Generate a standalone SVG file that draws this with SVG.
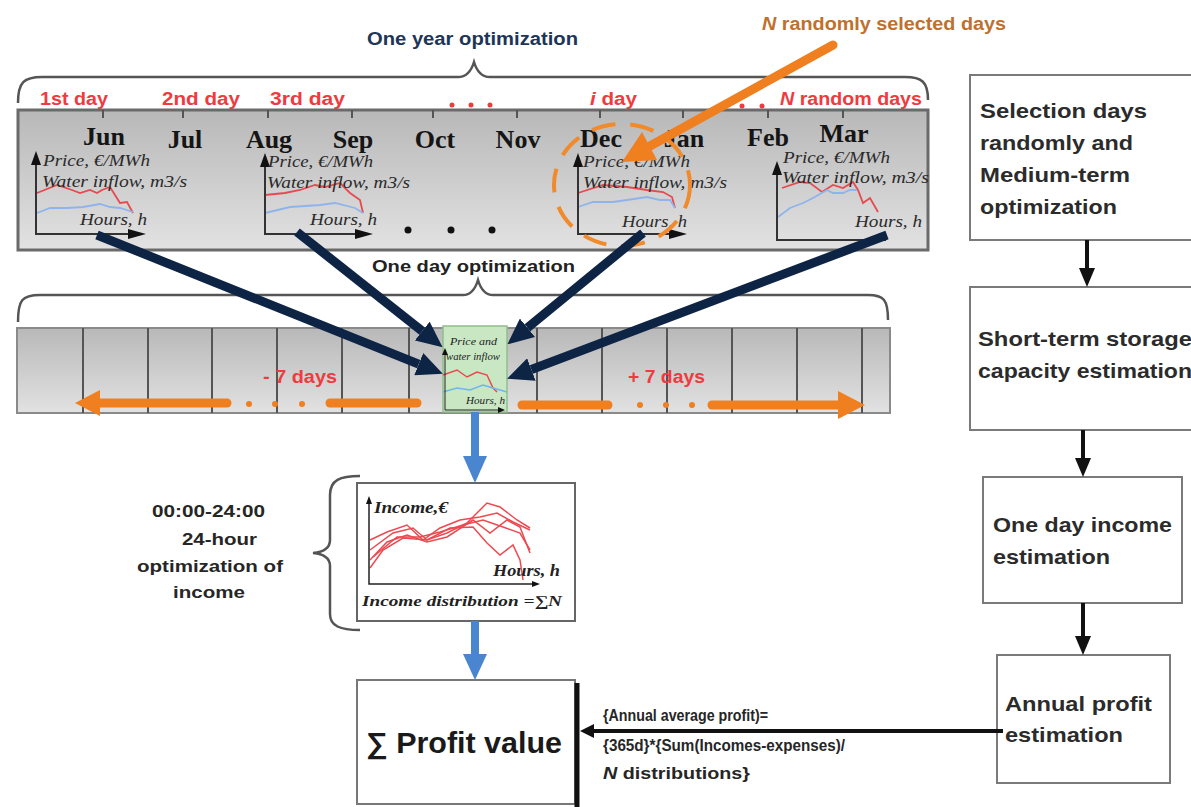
<svg xmlns="http://www.w3.org/2000/svg" width="1191" height="807" viewBox="0 0 1191 807">
<defs>
  <linearGradient id="gband" x1="0" y1="0" x2="0" y2="1">
    <stop offset="0" stop-color="#b8b8b8"/>
    <stop offset="1" stop-color="#e2e2e2"/>
  </linearGradient>
  <marker id="navyHead" markerUnits="userSpaceOnUse" markerWidth="26" markerHeight="24" viewBox="0 0 26 24" refX="0" refY="12" orient="auto">
    <path d="M0,0 L26,12 L0,24 z" fill="#0e2445"/>
  </marker>
</defs>
<style>
  .red{font-family:"Liberation Sans",Arial,sans-serif;font-weight:bold;font-size:18px;fill:#ef3b40}
  .month{font-family:"Liberation Serif","Times New Roman",serif;font-weight:bold;font-size:26px;fill:#151515}
  .ax{font-family:"Liberation Serif","Times New Roman",serif;font-style:italic;font-size:16px;fill:#2a2a2a}
  .axs{font-family:"Liberation Serif","Times New Roman",serif;font-style:italic;font-size:10px;fill:#222}
  .box{fill:#fff;stroke:#7a7a7a;stroke-width:2}
  .bt{font-family:"Liberation Sans",Arial,sans-serif;font-weight:bold;font-size:21px;fill:#2b2b2b}
  .lbl{font-family:"Liberation Sans",Arial,sans-serif;font-weight:bold;font-size:17px;fill:#262626}
  .navy{stroke:#0e2445;stroke-width:9;fill:none;marker-end:url(#navyHead)}
  .price{fill:none;stroke:#e8494f;stroke-width:1.8}
  .flow{fill:none;stroke:#8fb4ec;stroke-width:1.8}
  .axis{stroke:#333;stroke-width:2;fill:none}
  .brace{fill:none;stroke:#555;stroke-width:2.5}
  .div{stroke:#555;stroke-width:2}
  .tick{stroke:#555;stroke-width:2}
  .inc{fill:none;stroke:#ec4a50;stroke-width:1.5}
  .orng{stroke:#f07f1f;stroke-width:9;stroke-linecap:round;fill:none}
</style>

<rect width="1191" height="807" fill="#fff"/>

<!-- Top: one year optimization -->
<g id="year-band">
  <text x="367" y="45" font-family="Liberation Sans, Arial, sans-serif" font-weight="bold" font-size="18" fill="#1d3557" textLength="211" lengthAdjust="spacingAndGlyphs">One year optimization</text>
  <path class="brace" d="M18,103 C18,82 24,77 42,77 L458,77 C466,77 471,72 474,62 C477,72 482,77 490,77 L905,77 C922,77 928,82 928,100"/>
  <text class="red" x="40" y="105" textLength="68" lengthAdjust="spacingAndGlyphs">1st day</text>
  <text class="red" x="162" y="105" textLength="78" lengthAdjust="spacingAndGlyphs">2nd day</text>
  <text class="red" x="270" y="105" textLength="75" lengthAdjust="spacingAndGlyphs">3rd day</text>
  <circle cx="452" cy="105" r="2.5" fill="#ef3b40"/><circle cx="471" cy="105" r="2.5" fill="#ef3b40"/><circle cx="490" cy="105" r="2.5" fill="#ef3b40"/>
  <text class="red" x="590" y="105" textLength="47" lengthAdjust="spacingAndGlyphs"><tspan font-style="italic">i</tspan> day</text>
  <circle cx="722" cy="106" r="2.5" fill="#ef3b40"/><circle cx="742" cy="106" r="2.5" fill="#ef3b40"/><circle cx="762" cy="106" r="2.5" fill="#ef3b40"/>
  <text class="red" x="780" y="105" textLength="142" lengthAdjust="spacingAndGlyphs"><tspan font-style="italic">N</tspan> random days</text>

  <rect x="18" y="110" width="910" height="140" fill="url(#gband)" stroke="#6a6a6a" stroke-width="3"/>
  <g>
    <line class="tick" x1="103" y1="110" x2="103" y2="118"/><line class="tick" x1="183" y1="110" x2="183" y2="118"/>
    <line class="tick" x1="268" y1="110" x2="268" y2="118"/><line class="tick" x1="352" y1="110" x2="352" y2="118"/>
    <line class="tick" x1="433" y1="110" x2="433" y2="118"/><line class="tick" x1="517" y1="110" x2="517" y2="118"/>
    <line class="tick" x1="600" y1="110" x2="600" y2="118"/><line class="tick" x1="683" y1="110" x2="683" y2="118"/>
    <line class="tick" x1="768" y1="110" x2="768" y2="118"/><line class="tick" x1="843" y1="110" x2="843" y2="118"/>
  </g>
  <g>
    <text class="month" x="104" y="145" text-anchor="middle">Jun</text>
    <text class="month" x="185" y="148" text-anchor="middle">Jul</text>
    <text class="month" x="269" y="148" text-anchor="middle">Aug</text>
    <text class="month" x="353" y="148" text-anchor="middle">Sep</text>
    <text class="month" x="435" y="148" text-anchor="middle">Oct</text>
    <text class="month" x="518" y="148" text-anchor="middle">Nov</text>
    <text class="month" x="601" y="147" text-anchor="middle">Dec</text>
    <text class="month" x="684" y="147" text-anchor="middle">Jan</text>
    <text class="month" x="768" y="146" text-anchor="middle">Feb</text>
    <text class="month" x="844" y="142" text-anchor="middle">Mar</text>
  </g>

  <!-- chart 1 -->
  <g id="chart-1">
    <polyline class="price" points="37,193 57,185 72,190 80,193 90,190 97,193 102,190 110,187 115,195 120,203 127,202 133,213"/>
    <polyline class="flow" points="37,213 50,208 67,208 83,207 100,204 110,207 120,208 133,212"/>
    <polyline class="axis" points="36,158 36,234 132,234"/>
    <polygon points="31,165 41,165 36,151" fill="#111"/>
    <polygon points="128,229 128,239 146,234" fill="#111"/>
    <text class="ax" x="43" y="166" textLength="107" lengthAdjust="spacingAndGlyphs">Price, €/MWh</text>
    <text class="ax" x="42" y="187" textLength="145" lengthAdjust="spacingAndGlyphs">Water inflow, m3/s</text>
    <text class="ax" x="80" y="225" textLength="67" lengthAdjust="spacingAndGlyphs">Hours, h</text>
  </g>
  <!-- chart 2 -->
  <g id="chart-2">
    <polyline class="price" points="265,195 285,193 300,190 315,185 325,187 340,183 350,193 360,200 363,213"/>
    <polyline class="flow" points="265,213 290,207 320,205 335,203 355,208 363,213"/>
    <polyline class="axis" points="265,160 265,234 358,234"/>
    <polygon points="260,167 270,167 265,153" fill="#111"/>
    <polygon points="355,229 355,239 373,234" fill="#111"/>
    <text class="ax" x="268" y="167" textLength="105" lengthAdjust="spacingAndGlyphs">Price, €/MWh</text>
    <text class="ax" x="267" y="188" textLength="143" lengthAdjust="spacingAndGlyphs">Water inflow, m3/s</text>
    <text class="ax" x="310" y="225" textLength="67" lengthAdjust="spacingAndGlyphs">Hours, h</text>
  </g>
  <circle cx="408" cy="230" r="3.5" fill="#111"/><circle cx="451" cy="230" r="3.5" fill="#111"/><circle cx="492" cy="230" r="3.5" fill="#111"/>
  <!-- chart 3 (i day) -->
  <g id="chart-3">
    <polyline class="price" points="578,193 603,185 627,187 647,190 663,192 672,197 675,208"/>
    <polyline class="flow" points="578,207 593,202 613,202 627,200 647,197 660,200 670,200 675,208"/>
    <polyline class="axis" points="578,160 578,234 672,234"/>
    <polygon points="573,167 583,167 578,153" fill="#111"/>
    <polygon points="669,229 669,239 687,234" fill="#111"/>
    <text class="ax" x="583" y="167" textLength="107" lengthAdjust="spacingAndGlyphs">Price, €/MWh</text>
    <text class="ax" x="583" y="188" textLength="144" lengthAdjust="spacingAndGlyphs">Water inflow, m3/s</text>
    <text class="ax" x="622" y="227" textLength="65" lengthAdjust="spacingAndGlyphs">Hours, h</text>
  </g>
  <!-- chart 4 -->
  <g id="chart-4">
    <polyline class="price" points="782,188 800,182 810,183 822,192 833,185 843,188 853,182 858,190 863,203 870,198 878,212"/>
    <polyline class="flow" points="778,217 790,208 803,203 813,198 827,190 833,193 843,193 850,190 857,190"/>
    <polyline class="axis" points="777,168 777,240 886,240"/>
    <polygon points="772,175 782,175 777,161" fill="#111"/>
    <text class="ax" x="783" y="163" textLength="107" lengthAdjust="spacingAndGlyphs">Price, €/MWh</text>
    <text class="ax" x="782" y="183" textLength="147" lengthAdjust="spacingAndGlyphs">Water inflow, m3/s</text>
    <text class="ax" x="855" y="227" textLength="67" lengthAdjust="spacingAndGlyphs">Hours, h</text>
  </g>
  <ellipse cx="622" cy="185" rx="68" ry="61" fill="none" stroke="#f08a2a" stroke-width="4" stroke-dasharray="24 15"/>
  <text x="762" y="30" font-family="Liberation Sans, Arial, sans-serif" font-weight="bold" font-size="18" fill="#c0702e" textLength="244" lengthAdjust="spacingAndGlyphs"><tspan font-style="italic">N</tspan> randomly selected days</text>
</g>

<!-- Middle: one day optimization strip -->
<g id="day-strip">
  <text x="372" y="272" font-family="Liberation Sans, Arial, sans-serif" font-weight="bold" font-size="17" fill="#222" textLength="203" lengthAdjust="spacingAndGlyphs">One day optimization</text>
  <path class="brace" d="M18,322 C18,300 22,295 40,295 L463,295 C470,295 475,290 478,280 C481,290 486,295 493,295 L868,295 C884,295 888,300 888,320"/>
  <rect x="17" y="328" width="873" height="85" fill="url(#gband)" stroke="#8a8a8a" stroke-width="2"/>
  <g>
    <line class="div" x1="83" y1="328" x2="83" y2="413"/><line class="div" x1="148" y1="328" x2="148" y2="413"/>
    <line class="div" x1="212" y1="328" x2="212" y2="413"/><line class="div" x1="277" y1="328" x2="277" y2="413"/>
    <line class="div" x1="342" y1="328" x2="342" y2="413"/><line class="div" x1="409" y1="328" x2="409" y2="413"/>
    <line class="div" x1="537" y1="328" x2="537" y2="413"/><line class="div" x1="602" y1="328" x2="602" y2="413"/>
    <line class="div" x1="667" y1="328" x2="667" y2="413"/><line class="div" x1="732" y1="328" x2="732" y2="413"/>
    <line class="div" x1="797" y1="328" x2="797" y2="413"/><line class="div" x1="862" y1="328" x2="862" y2="413"/>
  </g>
  <text class="red" x="263" y="383" textLength="74" lengthAdjust="spacingAndGlyphs">- 7 days</text>
  <text class="red" x="628" y="383" textLength="77" lengthAdjust="spacingAndGlyphs">+ 7 days</text>
  <line class="orng" x1="330" y1="403" x2="417" y2="403"/>
  <circle cx="249" cy="404" r="3" fill="#f07f1f"/><circle cx="275" cy="404" r="3" fill="#f07f1f"/><circle cx="302" cy="404" r="3" fill="#f07f1f"/>
  <line class="orng" x1="227" y1="403" x2="100" y2="403"/>
  <polygon points="100,390 100,416 75,403" fill="#f07f1f"/>
  <line class="orng" x1="522" y1="405" x2="608" y2="405"/>
  <circle cx="640" cy="405" r="3" fill="#f07f1f"/><circle cx="666" cy="405" r="3" fill="#f07f1f"/><circle cx="692" cy="405" r="3" fill="#f07f1f"/>
  <line class="orng" x1="712" y1="405" x2="840" y2="405"/>
  <polygon points="838,391 838,419 865,405" fill="#f07f1f"/>
</g>

<g id="green-day">
  <rect x="443" y="326" width="64" height="86" fill="#c8e7c2" stroke="#8fc08a" stroke-width="1.5"/>
  <text class="axs" x="450" y="345" textLength="47" lengthAdjust="spacingAndGlyphs">Price and</text>
  <text class="axs" x="446" y="360" textLength="54" lengthAdjust="spacingAndGlyphs">water inflow</text>
  <polyline points="443,375 457,370 467,377 477,372 487,375 493,388 497,392" fill="none" stroke="#e8494f" stroke-width="1.5"/>
  <polyline points="443,392 457,388 470,390 483,385 493,388 500,390 507,392" fill="none" stroke="#6fb6ee" stroke-width="1.5"/>
  <polyline points="445,352 445,410 500,410" fill="none" stroke="#222" stroke-width="1"/>
  <polygon points="442,355 448,355 445,348" fill="#111"/>
  <polygon points="498,407 498,413 505,410" fill="#111"/>
  <text class="axs" x="466" y="404" textLength="39" lengthAdjust="spacingAndGlyphs">Hours, h</text>
</g>

<!-- Income box -->
<g id="income-box">
  <rect x="357" y="483" width="218" height="138" fill="#fff" stroke="#666" stroke-width="2"/>
  <polyline class="inc" points="370,540 387,532 407,525 423,540 440,528 460,520 480,517 497,513 513,522 530,530"/>
  <polyline class="inc" points="370,550 393,533 413,528 427,540 447,533 467,523 487,503 500,507 517,520 530,528"/>
  <polyline class="inc" points="370,560 387,542 407,535 427,542 447,537 473,520 490,533 507,520 520,527 530,553"/>
  <polyline class="inc" points="370,568 383,550 403,538 427,540 450,528 473,527 487,543 500,555 513,545 520,560 523,580"/>
  <polyline class="inc" points="373,557 397,537 420,537 440,532 463,525 483,520 503,527 520,533 530,550"/>
  <polyline points="369,502 369,584 536,584" fill="none" stroke="#222" stroke-width="1.5"/>
  <polygon points="366,504 372,504 369,496" fill="#111"/>
  <polygon points="532,581 532,587 540,584" fill="#111"/>
  <text x="374" y="513" font-family="Liberation Serif, serif" font-style="italic" font-weight="bold" font-size="16" fill="#222" textLength="74" lengthAdjust="spacingAndGlyphs">Income,€</text>
  <text x="493" y="576" font-family="Liberation Serif, serif" font-style="italic" font-weight="bold" font-size="16" fill="#222" textLength="67" lengthAdjust="spacingAndGlyphs">Hours, h</text>
  <text x="362" y="606" font-family="Liberation Serif, serif" font-style="italic" font-weight="bold" font-size="15" fill="#222" textLength="200" lengthAdjust="spacingAndGlyphs">Income distribution =∑N</text>
</g>

<g id="income-label">
  <path class="brace" stroke-width="2" d="M360,476 C340,476 330,480 330,495 L330,540 C330,548 324,552 313,553 C324,554 330,558 330,566 L330,614 C330,626 340,630 360,630"/>
  <text class="lbl" x="152" y="517" textLength="113" lengthAdjust="spacingAndGlyphs">00:00-24:00</text>
  <text class="lbl" x="182" y="545" textLength="75" lengthAdjust="spacingAndGlyphs">24-hour</text>
  <text class="lbl" x="137" y="572" textLength="146" lengthAdjust="spacingAndGlyphs">optimization of</text>
  <text class="lbl" x="173" y="598" textLength="72" lengthAdjust="spacingAndGlyphs">income</text>
</g>

<!-- Profit box -->
<g id="profit-box">
  <rect x="357" y="680" width="218" height="124" fill="#fff" stroke="#777" stroke-width="2"/>
  <line x1="577" y1="683" x2="577" y2="807" stroke="#111" stroke-width="5"/>
  <text x="366" y="753" font-family="Liberation Sans, Arial, sans-serif" font-weight="bold" font-size="29" fill="#1a1a1a" textLength="196" lengthAdjust="spacingAndGlyphs">∑ Profit value</text>
</g>

<g id="profit-formula">
  <text class="lbl" x="603" y="721" font-size="16" textLength="165" lengthAdjust="spacingAndGlyphs">{Annual average profit)=</text>
  <text class="lbl" x="603" y="751" font-size="16" textLength="242" lengthAdjust="spacingAndGlyphs">{365d}*{Sum(Incomes-expenses)/</text>
  <text class="lbl" x="603" y="779" font-size="16" textLength="147" lengthAdjust="spacingAndGlyphs"><tspan font-style="italic">N</tspan> distributions}</text>
</g>

<!-- Right column -->
<g id="step-1">
  <rect class="box" x="970" y="75" width="240" height="165"/>
  <text class="bt" x="980" y="118" textLength="167" lengthAdjust="spacingAndGlyphs">Selection days</text>
  <text class="bt" x="980" y="150" textLength="153" lengthAdjust="spacingAndGlyphs">randomly and</text>
  <text class="bt" x="980" y="182" textLength="150" lengthAdjust="spacingAndGlyphs">Medium-term</text>
  <text class="bt" x="980" y="214" textLength="137" lengthAdjust="spacingAndGlyphs">optimization</text>
</g>
<g id="step-2">
  <rect class="box" x="970" y="287" width="240" height="143"/>
  <text class="bt" x="978" y="346" textLength="214" lengthAdjust="spacingAndGlyphs">Short-term storage</text>
  <text class="bt" x="978" y="378" textLength="214" lengthAdjust="spacingAndGlyphs">capacity estimation</text>
</g>
<g id="step-3">
  <rect class="box" x="983" y="477" width="199" height="126"/>
  <text class="bt" x="993" y="532" textLength="179" lengthAdjust="spacingAndGlyphs">One day income</text>
  <text class="bt" x="993" y="564" textLength="117" lengthAdjust="spacingAndGlyphs">estimation</text>
</g>
<g id="step-4">
  <rect class="box" x="997" y="655" width="173" height="128"/>
  <text class="bt" x="1005" y="711" textLength="147" lengthAdjust="spacingAndGlyphs">Annual profit</text>
  <text class="bt" x="1005" y="742" textLength="118" lengthAdjust="spacingAndGlyphs">estimation</text>
</g>

<!-- Connectors -->
<g id="connectors">
  <line class="orng" x1="833" y1="45" x2="650" y2="146" stroke-width="10"/>
  <polygon points="642,132 657,160 622,162" fill="#f07f1f"/>

  <line class="navy" x1="97" y1="235" x2="418.7" y2="364.1"/>
  <line class="navy" x1="297" y1="232" x2="422.2" y2="331.1"/>
  <line class="navy" x1="643" y1="233" x2="527.5" y2="327.8"/>
  <line class="navy" x1="887" y1="235" x2="531.4" y2="369.5"/>

  <line x1="475" y1="412" x2="475" y2="458" stroke="#4a86d0" stroke-width="8"/>
  <polygon points="463,456 487,456 475,483" fill="#4a86d0"/>
  <line x1="475" y1="621" x2="475" y2="656" stroke="#4a86d0" stroke-width="8"/>
  <polygon points="463,654 487,654 475,680" fill="#4a86d0"/>

  <line x1="1087" y1="240" x2="1087" y2="270" stroke="#111" stroke-width="4"/>
  <polygon points="1079,268 1095,268 1087,287" fill="#111"/>
  <line x1="1083" y1="430" x2="1083" y2="460" stroke="#111" stroke-width="4"/>
  <polygon points="1075,458 1091,458 1083,477" fill="#111"/>
  <line x1="1083" y1="603" x2="1083" y2="638" stroke="#111" stroke-width="4"/>
  <polygon points="1075,636 1091,636 1083,655" fill="#111"/>

  <line x1="1003" y1="731" x2="592" y2="731" stroke="#111" stroke-width="4"/>
  <polygon points="594,724 594,738 580,731" fill="#111"/>
</g>
</svg>
